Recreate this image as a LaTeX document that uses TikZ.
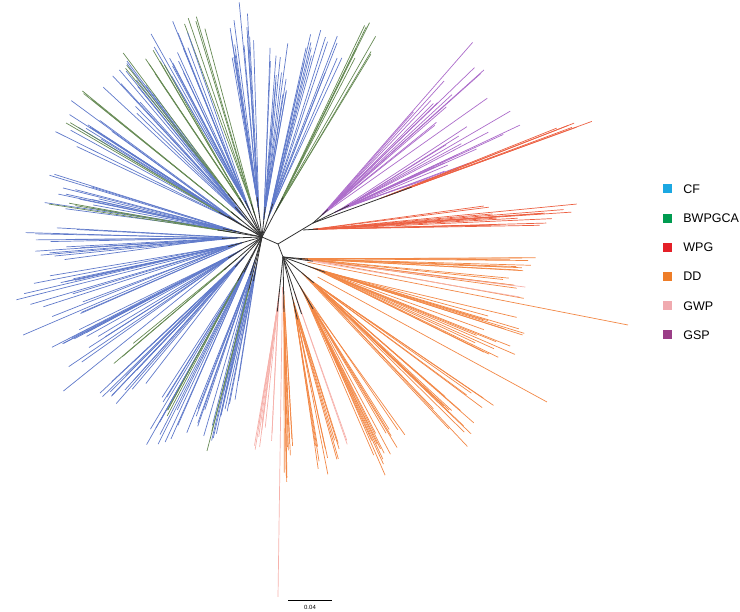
\documentclass[tikz,border=0pt]{standalone}
\usepackage{fontspec}
\setmainfont{Liberation Sans}
\usetikzlibrary{positioning}

% branch colours
\definecolor{cfline}{RGB}{96,122,202}
\definecolor{bwpline}{RGB}{102,138,84}
\definecolor{wpgline}{RGB}{236,96,66}
\definecolor{ddline}{RGB}{242,136,70}
\definecolor{gwpline}{RGB}{246,178,172}
\definecolor{gspline}{RGB}{172,108,202}
% legend colours
\definecolor{cfkey}{RGB}{27,168,226}
\definecolor{bwpkey}{RGB}{0,155,80}
\definecolor{wpgkey}{RGB}{228,32,40}
\definecolor{ddkey}{RGB}{238,125,40}
\definecolor{gwpkey}{RGB}{240,170,175}
\definecolor{gspkey}{RGB}{155,62,135}

% one fan of leaves per entry: angle/stem/count/spread/min/max/colour
\newcommand{\drawfan}[2]{%
  \foreach \a/\s/\n/\w/\lo/\hi/\col in {#2}{
    \foreach \k in {1,...,\n}{
      \pgfmathsetmacro\la{\a+(2*rnd-1)*\w}
      \pgfmathsetmacro\ll{\lo+rnd*(\hi-\lo)}
      \pgfmathsetmacro\ls{\s*(0.55+0.45*rnd)}
      \draw[leaf, draw=\col] (#1) ++(\a:\ls) -- ++(\la:\ll);
    }
    \draw[stem] (#1) -- ++(\a:\s);
  }%
}

\begin{document}
\begin{tikzpicture}[
  x=1pt, y=1pt,
  stem/.style={draw=black!80, line width=0.8pt},
  leaf/.style={line width=0.7pt},
  keybox/.style={minimum size=9pt, inner sep=0pt},
  keytext/.style={inner sep=0pt, font=\fontsize{12.5}{14}\selectfont}
]

% Canvas
\useasboundingbox (0,0) rectangle (740,612);
\pgfmathsetseed{31}

% ==================== ROOT ====================
\coordinate (hub) at (262,375);
\coordinate (node2) at (278,368);
\coordinate (gsproot) at (313,389);
\coordinate (wpgroot) at (303,382);
\coordinate (ddroot) at (283,355);

% ==================== CF / BWPGCA ====================
\drawfan{hub}{
  62/45/8/4/170/215/bwpline,
  72/35/14/7/150/195/cfline,
  84/30/12/5/120/175/cfline,
  97/40/14/6/150/200/cfline,
  108/35/5/3/185/212/bwpline,
  115/40/14/6/150/195/cfline,
  120/45/6/4/150/180/bwpline,
  132/40/14/6/150/200/cfline,
  128/55/3/2/165/185/bwpline,
  141/40/3/2/185/205/bwpline,
  149/40/14/6/150/200/cfline,
  150/50/2/1.5/165/180/bwpline,
  168/40/14/6/140/195/cfline,
  171/45/3/1.5/150/175/bwpline,
  182/40/14/6/150/205/cfline,
  196/35/16/8/160/230/cfline,
  212/40/14/7/160/215/cfline,
  221/50/3/2/130/150/bwpline,
  228/40/14/6/150/200/cfline,
  243/40/14/6/150/200/cfline,
  241/50/3/2/150/165/bwpline,
  253/40/12/5/150/180/cfline,
  259/45/8/4/120/150/cfline,
  256/55/2/1/160/170/bwpline}

% ==================== DD / GWP ====================
\coordinate (gwptip) at (278,15);
\coordinate (ddtipa) at (628,287);
\coordinate (ddtipb) at (547,210);
\draw[leaf, draw=gwpline] (ddroot) ++(-91:30) -- (gwptip);
\draw[leaf, draw=ddline] (ddroot) ++(-12:25) -- (ddtipa);
\drawfan{ddroot}{
  -5/25/16/6/200/235/ddline,
  -8/30/2/2/215/230/gwpline,
  -20/45/18/7/170/220/ddline,
  -40/40/18/7/180/230/ddline,
  -72/60/2/3/150/175/gwpline,
  -60/60/16/7/150/185/ddline,
  -77/64/12/5/140/165/ddline,
  -96/55/10/4/120/150/gwpline,
  -89/55/10/4/140/175/ddline}
\draw[leaf, draw=ddline] (ddroot) ++(-30:40) -- (ddtipb);

% ==================== GSP / WPG ====================
\drawfan{wpgroot}{3.5/15/16/4.5/170/270/wpgline}
\drawfan{gsproot}{
  42/20/14/7/120/230/gspline,
  26/40/16/8/100/205/gspline,
  20/105/6/2.5/185/205/wpgline}

% root stems
\draw[stem] (hub) -- (node2) -- (gsproot);
\draw[stem] (node2) -- (ddroot);

% ==================== LEGEND ====================
\node[keybox, fill=cfkey] (cf) at (667,423) {};
\node[keybox, fill=bwpkey, below=19.8pt of cf] (bwp) {};
\node[keybox, fill=wpgkey, below=19.8pt of bwp] (wpg) {};
\node[keybox, fill=ddkey, below=19.8pt of wpg] (dd) {};
\node[keybox, fill=gwpkey, below=19.8pt of dd] (gwp) {};
\node[keybox, fill=gspkey, below=19.8pt of gwp] (gsp) {};
\node[keytext, right=11.5pt of cf] (cftext) {CF};
\node[keytext, right=11.5pt of bwp] (bwptext) {BWPGCA};
\node[keytext, right=11.5pt of wpg] (wpgtext) {WPG};
\node[keytext, right=11.5pt of dd] (ddtext) {DD};
\node[keytext, right=11.5pt of gwp] (gwptext) {GWP};
\node[keytext, right=11.5pt of gsp] (gsptext) {GSP};

% Scale bar
\coordinate (barleft) at (288,12);
\coordinate (barright) at (332,12);
\coordinate (barmid) at (310,12);
\draw[line width=0.7pt] (barleft) -- (barright);
\node[font=\fontsize{6}{7}\selectfont, below=2pt of barmid] (barlabel) {0.04};

\end{tikzpicture}
\end{document}
